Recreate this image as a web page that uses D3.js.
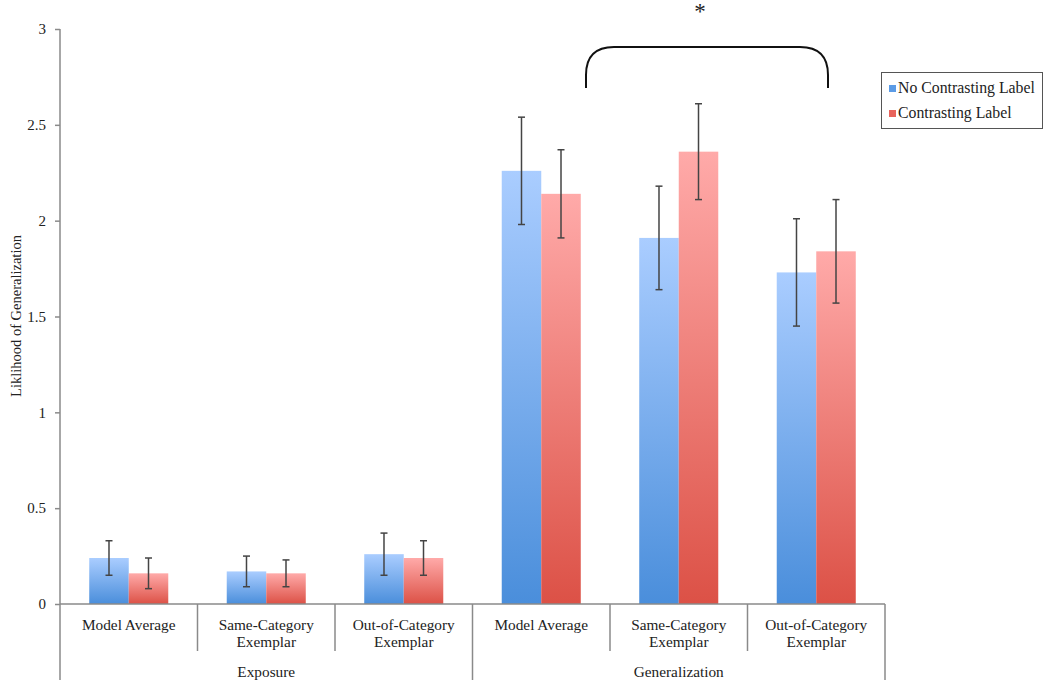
<!DOCTYPE html>
<html><head><meta charset="utf-8">
<script src="https://cdn.jsdelivr.net/npm/d3@7"></script>
<style>body{margin:0;background:#fff}svg{display:block}text{font-family:"Liberation Serif","DejaVu Serif",serif;fill:#222}</style>
</head><body>
<svg id="c" width="1050" height="687"></svg>
<script>
const groups = ["Exposure","Generalization"];
const categories = ["Model Average","Same-Category Exemplar","Out-of-Category Exemplar"];
const series = ["No Contrasting Label","Contrasting Label"];
const noContrast = [0.24,0.17,0.26,2.26,1.91,1.73];
const noContrastLo = [0.15,0.09,0.15,1.98,1.64,1.45];
const noContrastHi = [0.33,0.25,0.37,2.54,2.18,2.01];
const contrast = [0.16,0.16,0.24,2.14,2.36,1.84];
const contrastLo = [0.08,0.09,0.15,1.91,2.11,1.57];
const contrastHi = [0.24,0.23,0.33,2.37,2.61,2.11];
const yTicks = [0,0.5,1,1.5,2,2.5,3];

const svg = d3.select("#c");
const X0=60, X1=885, Y0=604, Y1=29;
const slots = d3.range(6);
const x = d3.scaleBand().domain(slots).range([X0,X1]).paddingInner(0).paddingOuter(0);
const xs = d3.scaleBand().domain(series).range([0,x.bandwidth()]).paddingInner(0).paddingOuter(0.74);
const y = d3.scaleLinear().domain([0,3]).range([Y0,Y1]);

const defs = svg.append("defs");
function grad(id, top, bot){
  const g = defs.append("linearGradient").attr("id",id).attr("x1",0).attr("y1",0).attr("x2",0).attr("y2",1);
  g.append("stop").attr("offset","0%").attr("stop-color",top);
  g.append("stop").attr("offset","100%").attr("stop-color",bot);
}
grad("gb","#aacdff","#4a8edb");
grad("gr","#ffaaa9","#dc5146");

const axisCol="#8a8a8a";
// y axis
const ya = svg.append("g").attr("transform",`translate(${X0},0)`).call(d3.axisLeft(y).tickValues(yTicks).tickSize(5).tickFormat(d=>String(d)));
ya.select(".domain").remove();
ya.selectAll(".tick line").attr("stroke",axisCol).attr("stroke-width",1.5);
ya.selectAll(".tick text").attr("font-size",15).attr("fill","#222").attr("x",-14).style("font-family",'"Liberation Serif",serif');
svg.append("line").attr("x1",X0).attr("x2",X0).attr("y1",Y1).attr("y2",680).attr("stroke",axisCol).attr("stroke-width",1.5);

// bars
const data = [];
slots.forEach(i=>{
  data.push({i,s:series[0],v:noContrast[i],lo:noContrastLo[i],hi:noContrastHi[i],f:"url(#gb)"});
  data.push({i,s:series[1],v:contrast[i],lo:contrastLo[i],hi:contrastHi[i],f:"url(#gr)"});
});
svg.selectAll("rect.bar").data(data).enter().append("rect").attr("class","bar")
  .attr("x",d=>x(d.i)+xs(d.s)).attr("width",xs.bandwidth())
  .attr("y",d=>y(d.v)).attr("height",d=>y(0)-y(d.v)).attr("fill",d=>d.f);

// error bars
const eb = svg.append("g").attr("stroke","#444").attr("stroke-width",1.5);
data.forEach(d=>{
  const cx = x(d.i)+xs(d.s)+xs.bandwidth()/2;
  eb.append("line").attr("x1",cx).attr("x2",cx).attr("y1",y(d.hi)).attr("y2",y(d.lo));
  eb.append("line").attr("x1",cx-3.5).attr("x2",cx+3.5).attr("y1",y(d.hi)).attr("y2",y(d.hi));
  eb.append("line").attr("x1",cx-3.5).attr("x2",cx+3.5).attr("y1",y(d.lo)).attr("y2",y(d.lo));
});

// x axis
svg.append("line").attr("x1",X0).attr("x2",X1).attr("y1",Y0).attr("y2",Y0).attr("stroke",axisCol).attr("stroke-width",1.5);
slots.forEach(i=>{
  if(i>0 && i!==3) svg.append("line").attr("x1",x(i)).attr("x2",x(i)).attr("y1",Y0).attr("y2",651).attr("stroke",axisCol).attr("stroke-width",1.5);
  const lines = categories[i%3].split(" ");
  const cx = x(i)+x.bandwidth()/2;
  const lab = (i%3===0)? [categories[0]] : [lines[0], lines[1]];
  lab.forEach((t,k)=>svg.append("text").attr("x",cx).attr("y",630+k*17).attr("text-anchor","middle").attr("font-size",15.3).text(t));
});
[x(3), X1].forEach(xx=>svg.append("line").attr("x1",xx).attr("x2",xx).attr("y1",Y0).attr("y2",680).attr("stroke",axisCol).attr("stroke-width",1.5));
groups.forEach((g,k)=>{
  const cx = (x(k*3) + x(k*3+2)+x.bandwidth())/2;
  svg.append("text").attr("x",cx).attr("y",677).attr("text-anchor","middle").attr("font-size",15.3).text(g);
});

// y label
svg.append("text").attr("transform","translate(21,316) rotate(-90)").attr("text-anchor","middle").attr("font-size",14.5).text("Liklihood of Generalization");

// bracket
const bx1=586, bx2=828, by=47, bb=88, r=28;
svg.append("path").attr("d",`M${bx1},${bb} L${bx1},${by+r} Q${bx1},${by} ${bx1+r},${by} L${bx2-r},${by} Q${bx2},${by} ${bx2},${by+r} L${bx2},${bb}`)
  .attr("fill","none").attr("stroke","#111").attr("stroke-width",2);
svg.append("text").attr("x",700).attr("y",19).attr("text-anchor","middle").attr("font-size",23).text("*");

// legend
const lg = svg.append("g");
lg.append("rect").attr("x",881.5).attr("y",72.5).attr("width",161).attr("height",56).attr("fill","#fff").attr("stroke","#555").attr("stroke-width",1);
series.forEach((s,k)=>{
  lg.append("rect").attr("x",889).attr("y",85+k*25).attr("width",7).attr("height",7).attr("fill",k?"#e8635b":"#5b9be6");
  lg.append("text").attr("x",898).attr("y",93+k*25).attr("font-size",15.8).text(s);
});
</script>
</body></html>
